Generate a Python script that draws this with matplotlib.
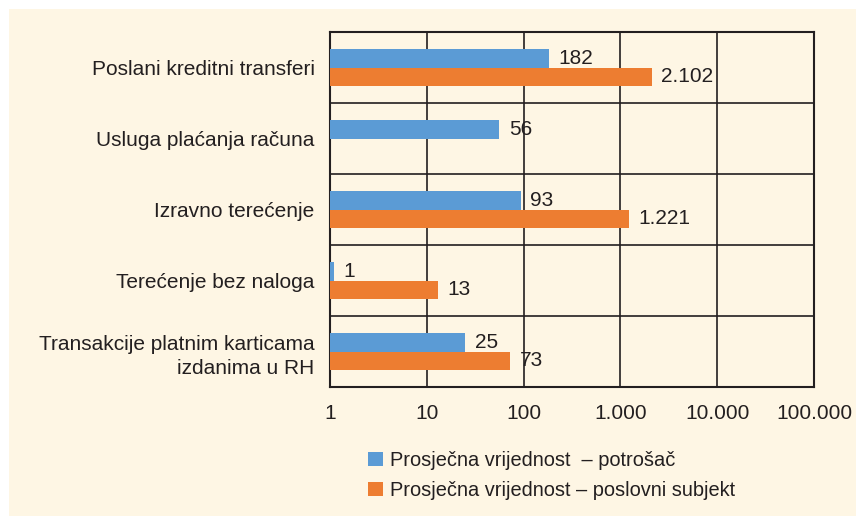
import numpy as np
import matplotlib
matplotlib.use("Agg")
import matplotlib.pyplot as plt
from matplotlib.patches import Patch

# data
categories = [
    "Poslani kreditni transferi",
    "Usluga plaćanja računa",
    "Izravno terećenje",
    "Terećenje bez naloga",
    "Transakcije platnim karticama\nizdanima u RH",
]
potrosac = [182, 56, 93, 1.1, 25]
poslovni = [2102, np.nan, 1221, 13, 73]
tick_vals = [1, 10, 100, 1000, 10000, 100000]
series_names = ["Prosječna vrijednost  – potrošač",
                "Prosječna vrijednost – poslovni subjekt"]

BLUE = "#5b9bd5"
ORANGE = "#ed7d31"
CREAM = "#fef6e4"
INK = "#231f20"
FS = 15

plt.rcParams["font.family"] = ["Liberation Sans", "DejaVu Sans"]


def fmt(v):
    return f"{int(round(v)):,}".replace(",", ".")


fig = plt.figure(figsize=(8.56, 5.16), dpi=100, facecolor="white")
# cream panel behind everything, leaving the thin white strip top/left
fig.patches.append(plt.Rectangle((9 / 856, 0), 1, 1 - 9 / 516,
                                 transform=fig.transFigure,
                                 facecolor=CREAM, edgecolor="none", zorder=-1))

ax = fig.add_axes([330 / 856, 1 - 387 / 516, (814 - 330) / 856, (387 - 32) / 516])
ax.set_facecolor(CREAM)
ax.set_xscale("log")
ax.set_xlim(1, 100000)
ax.set_ylim(len(categories) - 0.5, -0.5)

y = np.arange(len(categories))
h = 0.26
pot = np.array(potrosac, dtype=float)
pos = np.array(poslovni, dtype=float)
ax.barh(y - h / 2, pot - 1, left=1, height=h, color=BLUE, zorder=3)
ax.barh(y + h / 2, pos - 1, left=1, height=h, color=ORANGE, zorder=3)

for yi, v in zip(y - h / 2, pot):
    ax.annotate(fmt(v), (v, yi), xytext=(7, 0), textcoords="offset points",
                va="center", ha="left", fontsize=FS, color=INK, zorder=4)
for yi, v in zip(y + h / 2, pos):
    if np.isnan(v):
        continue
    ax.annotate(fmt(v), (v, yi), xytext=(7, 0), textcoords="offset points",
                va="center", ha="left", fontsize=FS, color=INK, zorder=4)

# grid: vertical at decades, horizontal between categories
for t in tick_vals[1:-1]:
    ax.axvline(t, color=INK, lw=1.2, zorder=2)
for b in y[:-1] + 0.5:
    ax.axhline(b, color=INK, lw=1.2, zorder=2)
for s in ax.spines.values():
    s.set_color(INK)
    s.set_linewidth(1.5)

ax.set_xticks(tick_vals)
ax.set_xticklabels([fmt(t) for t in tick_vals])
ax.xaxis.set_minor_locator(matplotlib.ticker.NullLocator())
ax.set_yticks(y)
ax.set_yticklabels(categories, ha="right", multialignment="right",
                   linespacing=1.4)
ax.tick_params(axis="both", length=0, labelsize=FS, colors=INK)
ax.tick_params(axis="y", pad=11)
ax.tick_params(axis="x", pad=12)

handles = [Patch(facecolor=BLUE), Patch(facecolor=ORANGE)]
fig.legend(handles, series_names, loc="upper left",
           bbox_to_anchor=(358 / 856, 1 - 441 / 516), frameon=False,
           fontsize=14.4, labelcolor=INK, handlelength=0.75, handleheight=0.75,
           handletextpad=0.35, labelspacing=0.55, borderpad=0)

fig.savefig("out.png", dpi=100, facecolor=fig.get_facecolor())
